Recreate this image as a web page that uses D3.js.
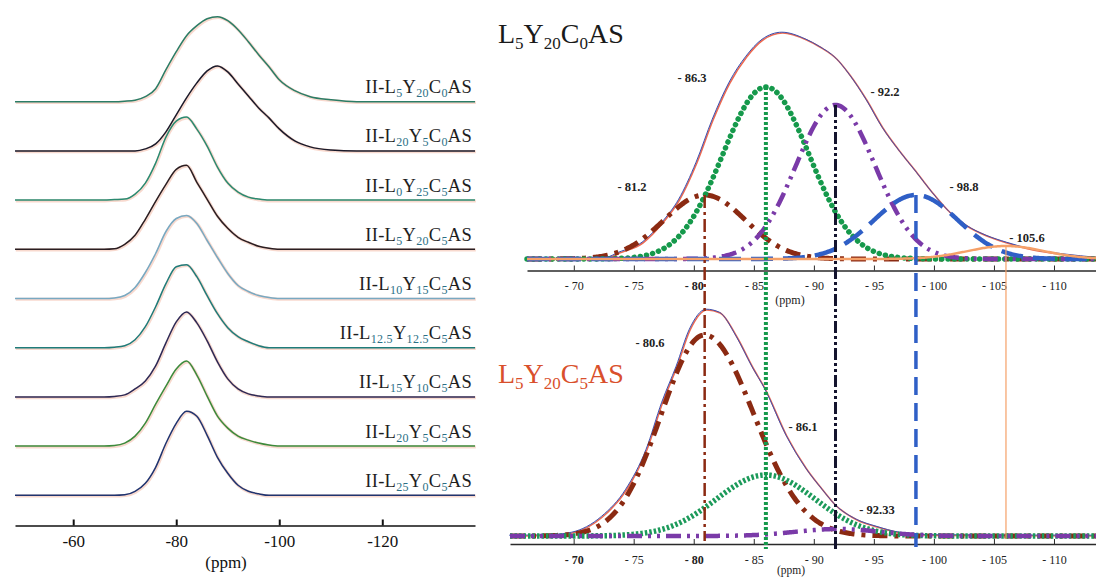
<!DOCTYPE html>
<html><head><meta charset="utf-8">
<script src="https://cdn.jsdelivr.net/npm/d3@7"></script>
<style>
html,body{margin:0;padding:0;background:#fff;}
svg{display:block;}
svg text{font-family:"Liberation Serif","DejaVu Serif",serif !important;}
</style></head><body>
<svg id="chart" width="1096" height="578"></svg>
<script>
// ================= DATA =================
// Left panel: stacked 29Si MAS NMR spectra, intensities read on a common ppm grid
const leftPpm = [-48.7,-60,-66,-68,-70,-72,-74,-76,-78,-80,-82,-84,-86,-88,-90,-92,-94,-96,-98,-100,-103,-106,-110,-115,-125,-138];
const specL5Y20C0   = [0,0,0,0,0.5,1.5,5,13,32,50,66,76,83,85,81,72,60,47,35,22,11,5,2,0,0,0];
const specL20Y5C0   = [0,0,0,0,0,0,2,7,19,36,53,68,80,85,79,67,55,43,33,22,10,4,1,0,0,0];
const specL0Y25C5   = [0,0,0,0.5,1,6,17,37,63,79,83,71,54,33,17,8,3,1,0,0,0,0,0,0,0,0];
const specL5Y20C5   = [0,0,0,0.5,5,14,30,48,65,80,84,67,50,33,21,12,7,3,1,0,0,0,0,0,0,0];
const specL10Y15C5  = [0,0,0,0.5,3,11,26,45,67,80,83,75,58,41,25,13,7,3,1,0,0,0,0,0,0,0];
const specL125Y125C5= [0,0,0,0.5,2,8,21,41,64,81,83,71,52,34,20,11,6,2,0,0,0,0,0,0,0,0];
const specL15Y10C5  = [0,0,0,0.5,2,8,16,31,54,75,85,74,56,35,18,8,3,1,0,0,0,0,0,0,0,0];
const specL20Y5C5   = [0,0,0,0.5,3,10,23,42,60,77,85,71,50,30,18,10,6,3,1,0,0,0,0,0,0,0];
const specL25Y0C5   = [0,0,0,0,0.5,4,12,28,52,72,84,79,60,38,22,10,4,1.5,0,0,0,0,0,0,0,0];
const sampleL = ["5","20","0","5","10","12.5","15","20","25"];
const sampleY = ["20","5","25","20","15","12.5","10","5","0"];
const sampleC = ["0","0","5","5","5","5","5","5","5"];
const leftTicks = [-60,-80,-100,-120];
const leftTickLabels = ["-60","-80","-100","-120"];

// Right top: L5Y20C0AS experimental envelope + deconvoluted components
const topEnvPpm = [-66.1,-70,-72.75,-73.8,-75.75,-77.4,-78.8,-80.25,-81.6,-83.0,-84.4,-85.75,-87.4,-89.4,-90.5,-91.9,-93.0,-94.4,-95.75,-97.2,-98.6,-99.9,-101.3,-102.75,-104.4,-106.1,-108.25,-111.1,-113.5];
const topEnvInt = [0,0,1,6,16,36,59,96,139,176,202,219,226,219,212,200,184,159,131,107,86,66,47,33,23,16,9,4,1];
const topPeakPos    = [-80.9,-86.0,-91.8,-98.5,-106.0];
const topPeakHeight = [64,172,154,64,13];
const topPeakSigma  = [3.4,3.6,3.3,3.5,3.2];
const topPeakLabels = ["- 81.2","- 86.3","- 92.2","- 98.8","- 105.6"];

// Right bottom: L5Y20C5AS
const botEnvPpm = [-64.7,-68,-69.9,-72.4,-74.4,-76.1,-77.4,-78.6,-79.7,-81.1,-82.2,-83.6,-84.9,-86.0,-87.75,-89.4,-90.75,-91.8,-93.6,-95.25,-97.2,-100,-113.5];
const botEnvInt = [0,0.5,3,19,46,86,133,169,206,226,223,199,169,146,100,67,46,31,16,9,3,0.5,0];
const botPeakPos     = [-80.9,-86.0,-92.0];
const botPeakHeight  = [201,61,7];
const botPeakSigmaL  = [3.6,4.1,3.5];
const botPeakSigmaR  = [4.1,4.1,3.5];
const botPeakLabels  = ["- 80.6","- 86.1","- 92.33"];

const rightTicks = [-70,-75,-80,-85,-90,-95,-100,-105,-110];
const rightTickLabels = ["- 70","- 75","- 80","- 85","- 90","- 95","- 100","- 105","- 110"];

// ================= DRAWING =================
const SERIF = '"Liberation Serif","DejaVu Serif",serif';
const svg = d3.select("#chart");

function formula(sel, parts, subSize, subColor, drop) {
  let prevSub = false;
  parts.forEach(([t, sub]) => {
    const ts = sel.append("tspan").text(t);
    if (sub) { ts.style("font-size", subSize + "px").attr("fill", subColor); if (!prevSub) ts.attr("dy", drop); }
    else if (prevSub) ts.attr("dy", -drop);
    prevSub = sub;
  });
}
function serifText(sel, size) {
  return sel.style("font-family", SERIF).style("font-size", size + "px");
}

// ---------- LEFT PANEL ----------
const xL = d3.scaleLinear().domain([-48.7, -138]).range([15, 475]);
const yL = d3.scaleLinear().domain([0, 100]).range([0, -100]);
const leftSpectra = [specL5Y20C0, specL20Y5C0, specL0Y25C5, specL5Y20C5, specL10Y15C5, specL125Y125C5, specL15Y10C5, specL20Y5C5, specL25Y0C5];
const leftColors = ["#2b7d66","#1a1a2a","#2a8a70","#2a1e22","#78a9c2","#1f7c7a","#2e2a56","#3c8b3c","#1f3470"];
const firstBase = 101.7, spacing = 49.2;
const gL = svg.append("g");
leftSpectra.forEach((vals, i) => {
  const base = firstBase + i * spacing;
  const line = d3.line().x((d, j) => xL(leftPpm[j])).y(d => base + yL(d)).curve(d3.curveMonotoneX);
  gL.append("path").attr("d", line(vals)).attr("fill", "none")
    .attr("stroke", "#f3b9a6").attr("stroke-width", 3).attr("opacity", 0.55)
    .attr("transform", "translate(0.8,0.8)");
  gL.append("path").attr("d", line(vals)).attr("fill", "none")
    .attr("stroke", leftColors[i]).attr("stroke-width", 1.5);
  const t = serifText(gL.append("text").attr("x", 472).attr("y", base - 8.5)
    .attr("text-anchor", "end"), 18.5).attr("fill", "#1e1e1e").attr("letter-spacing", 0.3);
  formula(t, [["II-L",false],[sampleL[i],true],["Y",false],[sampleY[i],true],["C",false],[sampleC[i],true],["AS",false]], 12, "#2b6f86", 4);
});
const axL = d3.axisBottom(xL).tickValues(leftTicks).tickFormat((d, i) => leftTickLabels[i])
  .tickSize(-6).tickSizeOuter(0).tickPadding(9);
const gAxL = svg.append("g").attr("transform", "translate(0,525.5)").call(axL);
gAxL.attr("font-family", null).attr("font-size", null);
gAxL.select(".domain").attr("stroke", "#111").attr("stroke-width", 1.6);
gAxL.selectAll(".tick line").attr("stroke", "#111").attr("stroke-width", 2);
serifText(gAxL.selectAll(".tick text"), 17).attr("fill", "#111");
serifText(svg.append("text").attr("x", 226).attr("y", 568).attr("text-anchor", "middle"), 17)
  .attr("fill", "#111").text("(ppm)");

// ---------- RIGHT PANELS ----------
const xT = d3.scaleLinear().domain([-66.1, -113.5]).range([527, 1096]);
const xB = d3.scaleLinear().domain([-64.7, -113.5]).range([510, 1096]);
const topBase = 259, botBase = 536;
const topAxisY = 270.5, botAxisY = 544;
const yT = d3.scaleLinear().domain([0, 250]).range([topBase, topBase - 250]);
const yB = d3.scaleLinear().domain([0, 250]).range([botBase, botBase - 250]);

const compStyle = [
  {color:"#8b2a12", width:5,   dash:"15 7 4 7", cap:"butt"},
  {color:"#15994b", width:5.5, dash:"0.1 6.2",  cap:"round"},
  {color:"#7a3aa8", width:4.5, dash:"15 6 3 6 3 6", cap:"butt"},
  {color:"#2f5fc6", width:4.5, dash:"22 10",    cap:"butt"},
  {color:"#f5a068", width:2.5, dash:null,       cap:"butt"}
];
const botStyle = [
  {color:"#8b2a12", width:5,   dash:"15 7 4 7", cap:"butt"},
  {color:"#1c9a5a", width:5.5, dash:"2.5 2",    cap:"butt"},
  {color:"#7a3aa8", width:4.5, dash:"15 6 3 6 3 6", cap:"butt"}
];

function gaussPts(lo, hi, c, h, sL, sR) {
  return d3.range(lo, hi - 0.001, -0.1).map(p => {
    const s = p > c ? sL : sR;
    return [p, h * Math.exp(-((p - c) * (p - c)) / (2 * s * s))];
  });
}

function envelope(x, y, ppm, inten) {
  const line = d3.line().x((d, i) => x(ppm[i])).y(d => y(d)).curve(d3.curveMonotoneX);
  svg.append("path").attr("d", line(inten)).attr("fill", "none").attr("stroke", "#ec6a52").attr("stroke-width", 1.6);
  svg.append("path").attr("d", line(inten)).attr("fill", "none").attr("stroke", "#3a4fb0").attr("stroke-width", 1)
    .attr("transform", "translate(-0.8,-0.8)");
}

function rightAxis(scale, yPos, boldSet) {
  const ax = d3.axisBottom(scale).tickValues(rightTicks).tickFormat((d, i) => rightTickLabels[i])
    .tickSize(-5).tickSizeOuter(0).tickPadding(11);
  const g = svg.append("g").attr("transform", `translate(0,${yPos})`).call(ax);
  g.attr("font-family", null).attr("font-size", null);
  g.select(".domain").attr("stroke", "#2a2a2a").attr("stroke-width", 1.3);
  g.selectAll(".tick line").attr("stroke", "#2a2a2a").attr("stroke-width", 1);
  serifText(g.selectAll(".tick text"), 12).attr("fill", "#222")
    .style("font-weight", d => boldSet.includes(d) ? "bold" : "normal");
  return g;
}

rightAxis(xT, topAxisY, [-80]);
rightAxis(xB, botAxisY, [-70, -80]);
serifText(svg.append("text").attr("x", 790).attr("y", 304).attr("text-anchor", "middle"), 12)
  .attr("fill", "#222").text("(ppm)");
serifText(svg.append("text").attr("x", 791).attr("y", 574).attr("text-anchor", "middle"), 11.5)
  .attr("fill", "#222").text("(ppm)");

// top envelope and components
envelope(xT, yT, topEnvPpm, topEnvInt);
const compLine = (x, y) => d3.line().x(d => x(d[0])).y(d => y(d[1]));
topPeakPos.forEach((c, i) => {
  const pts = gaussPts(-66.1, -113.5, c, topPeakHeight[i], topPeakSigma[i], topPeakSigma[i]);
  const st = compStyle[i];
  svg.append("path").attr("d", compLine(xT, yT)(pts)).attr("fill", "none")
    .attr("stroke", st.color).attr("stroke-width", st.width)
    .attr("stroke-dasharray", st.dash).attr("stroke-linecap", st.cap);
});

// bottom envelope and components
envelope(xB, yB, botEnvPpm, botEnvInt);
botPeakPos.forEach((c, i) => {
  const pts = gaussPts(-64.7, -113.5, c, botPeakHeight[i], botPeakSigmaL[i], botPeakSigmaR[i]);
  const st = botStyle[i];
  svg.append("path").attr("d", compLine(xB, yB)(pts)).attr("fill", "none")
    .attr("stroke", st.color).attr("stroke-width", st.width)
    .attr("stroke-dasharray", st.dash).attr("stroke-linecap", st.cap);
});

// vertical guide lines from top component maxima down to bottom axis
const vStyle = [
  {color:"#8b2a12", width:2.5, dash:"13 4 3 4", end:541},
  {color:"#15994b", width:4,   dash:"3 2",      end:549},
  {color:"#14142e", width:3,   dash:"12 3 3 3 3 3", end:549},
  {color:"#2f5fc6", width:3.5, dash:"18 8",     end:547},
  {color:"#f5a068", width:1.2, dash:null,       end:539}
];
topPeakPos.forEach((c, i) => {
  const x = xT(c), st = vStyle[i];
  svg.append("line").attr("x1", x).attr("x2", x)
    .attr("y1", yT(topPeakHeight[i])).attr("y2", st.end)
    .attr("stroke", st.color).attr("stroke-width", st.width).attr("stroke-dasharray", st.dash);
});

// peak labels
const topLabelXY = [[632,191],[692,82],[885,96],[964,191],[1027,242]];
topPeakLabels.forEach((t, i) => {
  serifText(svg.append("text").attr("x", topLabelXY[i][0]).attr("y", topLabelXY[i][1]).attr("text-anchor", "middle"), 12.5)
    .style("font-weight", "bold").attr("fill", "#222").text(t);
});
const botLabelXY = [[650,347],[803,431],[877,514]];
botPeakLabels.forEach((t, i) => {
  serifText(svg.append("text").attr("x", botLabelXY[i][0]).attr("y", botLabelXY[i][1]).attr("text-anchor", "middle"), 12.5)
    .style("font-weight", "bold").attr("fill", "#222").text(t);
});

// titles
const t1 = serifText(svg.append("text").attr("x", 498).attr("y", 43), 28).attr("fill", "#1a1a1a");
formula(t1, [["L",false],["5",true],["Y",false],["20",true],["C",false],["0",true],["AS",false]], 17, "#1a1a1a", 6);
const t2 = serifText(svg.append("text").attr("x", 498).attr("y", 383), 28).attr("fill", "#d9502c");
formula(t2, [["L",false],["5",true],["Y",false],["20",true],["C",false],["5",true],["AS",false]], 17, "#d9502c", 6);
</script>
</body></html>
